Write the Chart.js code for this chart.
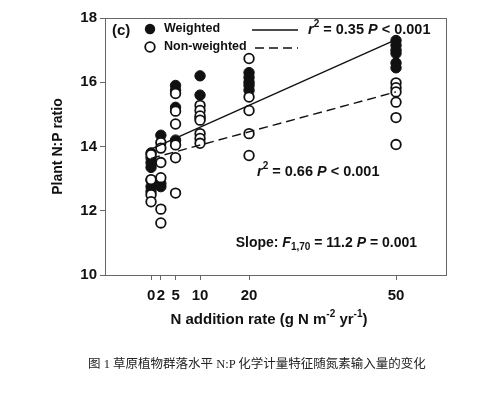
<!DOCTYPE html>
<html lang="zh">
<head>
<meta charset="UTF-8">
<title>Plant N:P ratio</title>
<script src="https://cdn.jsdelivr.net/npm/chart.js"></script>
<style>
  body { margin: 0; background: #fff; overflow: hidden; }
  #wrap { position: relative; width: 494px; height: 395px; }
  #caption { position: absolute; left: 88px; top: 353px; font: 12.5px "Liberation Serif", "Noto Sans CJK SC", serif; color: #222; white-space: nowrap; }
</style>
</head>
<body>
<div id="wrap">
  <canvas id="chart" width="494" height="395"></canvas>
  <div id="caption">图 1 草原植物群落水平 N:P 化学计量特征随氮素输入量的变化</div>
</div>
<script>
// N addition rates shown on the x axis
const nRates = [0, 2, 5, 10, 20, 50];

// weighted N:P (filled dots)
const weightedN  = [0, 0, 0, 0, 0, 0, 0, 2, 2, 2, 5, 5, 5, 5, 10, 10, 10, 20, 20, 20, 20, 20, 50, 50, 50, 50, 50, 50];
const weightedNP = [13.8, 13.65, 13.5, 13.35, 12.95, 12.75, 12.6, 14.35, 12.85, 12.75, 15.9, 15.75, 15.22, 14.2, 16.2, 15.6, 14.88, 16.3, 16.15, 16.0, 15.9, 15.75, 17.3, 17.15, 17.0, 16.9, 16.6, 16.45];

// non-weighted N:P (open dots)
const plainN  = [0, 0, 0, 0, 2, 2, 2, 2, 2, 2, 5, 5, 5, 5, 5, 5, 10, 10, 10, 10, 10, 10, 10, 20, 20, 20, 20, 20, 50, 50, 50, 50, 50, 50];
const plainNP = [13.75, 12.97, 12.5, 12.28, 14.12, 13.95, 13.5, 13.03, 12.05, 11.62, 15.65, 15.1, 14.7, 14.05, 13.65, 12.55, 15.28, 15.12, 14.95, 14.82, 14.4, 14.25, 14.1, 16.74, 15.54, 15.12, 14.4, 13.72, 15.98, 15.83, 15.7, 15.38, 14.9, 14.06];

// regression lines, ends at N = 0 and N = 50
const fitN = [0, 50];
const weightedFit = [13.92, 17.33];
const plainFit = [13.63, 15.7];

const yTicks = [10, 12, 14, 16, 18];

const FONT = '"Liberation Sans", Arial, sans-serif';
const INK = '#111';
Chart.defaults.font.family = FONT;
Chart.defaults.color = INK;

function pts(xs, ys) {
    return xs.map((x, i) => ({ x: x, y: ys[i] }));
}

// text with italic / superscript / subscript pieces
function drawRich(ctx, parts, x, y, size, align) {
    const fontFor = (st) => {
        const small = st === 'sup' || st === 'sub';
        const it = st === 'i' ? 'italic ' : '';
        return it + 'bold ' + (small ? Math.round(size * 0.68) : size) + 'px ' + FONT;
    };
    let total = 0;
    parts.forEach(p => { ctx.font = fontFor(p[1]); total += ctx.measureText(p[0]).width; });
    let cx = align === 'center' ? x - total / 2 : align === 'right' ? x - total : x;
    ctx.textAlign = 'left';
    ctx.textBaseline = 'middle';
    parts.forEach(p => {
        ctx.font = fontFor(p[1]);
        let dy = 0;
        if (p[1] === 'sup') dy = -size * 0.38;
        if (p[1] === 'sub') dy = size * 0.3;
        ctx.fillText(p[0], cx, y + dy);
        cx += ctx.measureText(p[0]).width;
    });
}

const extras = {
    id: 'extras',
    beforeDatasetsDraw(chart) {
        const ctx = chart.ctx, a = chart.chartArea;
        ctx.save();
        ctx.strokeStyle = '#666';
        ctx.lineWidth = 1;
        ctx.strokeRect(Math.round(a.left) + 0.5, Math.round(a.top) + 0.5, Math.round(a.right - a.left), Math.round(a.bottom - a.top));
        ctx.restore();
    },
    afterDraw(chart) {
        const ctx = chart.ctx;
        ctx.save();
        ctx.fillStyle = INK;
        ctx.strokeStyle = INK;

        drawRich(ctx, [['(c)', '']], 112, 31, 15, 'left');

        // legend
        ctx.beginPath(); ctx.arc(150, 29, 5.2, 0, Math.PI * 2); ctx.fill();
        ctx.lineWidth = 1.8;
        ctx.beginPath(); ctx.arc(150, 47, 4.8, 0, Math.PI * 2); ctx.stroke();
        drawRich(ctx, [['Weighted', '']], 164, 29, 12.5, 'left');
        drawRich(ctx, [['Non-weighted', '']], 164, 47, 12.5, 'left');
        ctx.lineWidth = 1.4;
        ctx.beginPath(); ctx.moveTo(252, 30); ctx.lineTo(298, 30); ctx.stroke();
        ctx.setLineDash([9, 5]);
        ctx.beginPath(); ctx.moveTo(255, 48); ctx.lineTo(298, 48); ctx.stroke();
        ctx.setLineDash([]);

        // statistics
        drawRich(ctx, [['r', 'i'], ['2', 'sup'], [' = 0.35 ', ''], ['P', 'i'], [' < 0.001', '']], 308, 30, 14.5, 'left');
        drawRich(ctx, [['r', 'i'], ['2', 'sup'], [' = 0.66 ', ''], ['P', 'i'], [' < 0.001', '']], 257, 172, 14.5, 'left');
        drawRich(ctx, [['Slope: ', ''], ['F', 'i'], ['1,70', 'sub'], [' = 11.2 ', ''], ['P', 'i'], [' = 0.001', '']], 417, 243, 14, 'right');

        // x axis title
        drawRich(ctx, [['N addition rate (g N m', ''], ['-2', 'sup'], [' yr', ''], ['-1', 'sup'], [')', '']], 269, 320, 15, 'center');
        ctx.restore();
    }
};

new Chart(document.getElementById('chart'), {
    type: 'scatter',
    data: {
        datasets: [
            {
                type: 'line',
                data: pts(fitN, weightedFit),
                borderColor: INK,
                borderWidth: 1.4,
                pointRadius: 0
            },
            {
                type: 'line',
                data: pts(fitN, plainFit),
                borderColor: INK,
                borderWidth: 1.4,
                borderDash: [9, 5],
                pointRadius: 0
            },
            {
                data: pts(plainN, plainNP),
                pointRadius: 4.8,
                pointBackgroundColor: '#fff',
                pointBorderColor: INK,
                pointBorderWidth: 1.8
            },
            {
                data: pts(weightedN, weightedNP),
                pointRadius: 5.2,
                pointBackgroundColor: INK,
                pointBorderColor: INK,
                pointBorderWidth: 1
            }
        ]
    },
    options: {
        responsive: false,
        animation: false,
        layout: { padding: { left: 0, top: 18, right: 48, bottom: 0 } },
        plugins: { legend: { display: false }, tooltip: { enabled: false } },
        scales: {
            x: {
                type: 'linear',
                min: -9.4,
                max: 60.2,
                afterBuildTicks: s => { s.ticks = nRates.map(v => ({ value: v })); },
                afterFit: s => { s.height = 120; },
                grid: { drawOnChartArea: false, color: '#666', tickLength: 5 },
                border: { display: false },
                ticks: { autoSkip: false, maxRotation: 0, minRotation: 0, padding: 7, color: INK, font: { size: 15, weight: 'bold' } }
            },
            y: {
                min: 10,
                max: 18,
                afterBuildTicks: s => { s.ticks = yTicks.map(v => ({ value: v })); },
                afterFit: s => { s.width = 105; },
                grid: { drawOnChartArea: false, color: '#666', tickLength: 5 },
                border: { display: false },
                ticks: { padding: 3, color: INK, font: { size: 15, weight: 'bold' } },
                title: { display: true, text: 'Plant N:P ratio', color: INK, font: { size: 14, weight: 'bold' }, padding: { top: 50, bottom: 0 } }
            }
        }
    },
    plugins: [extras]
});
</script>
</body>
</html>
